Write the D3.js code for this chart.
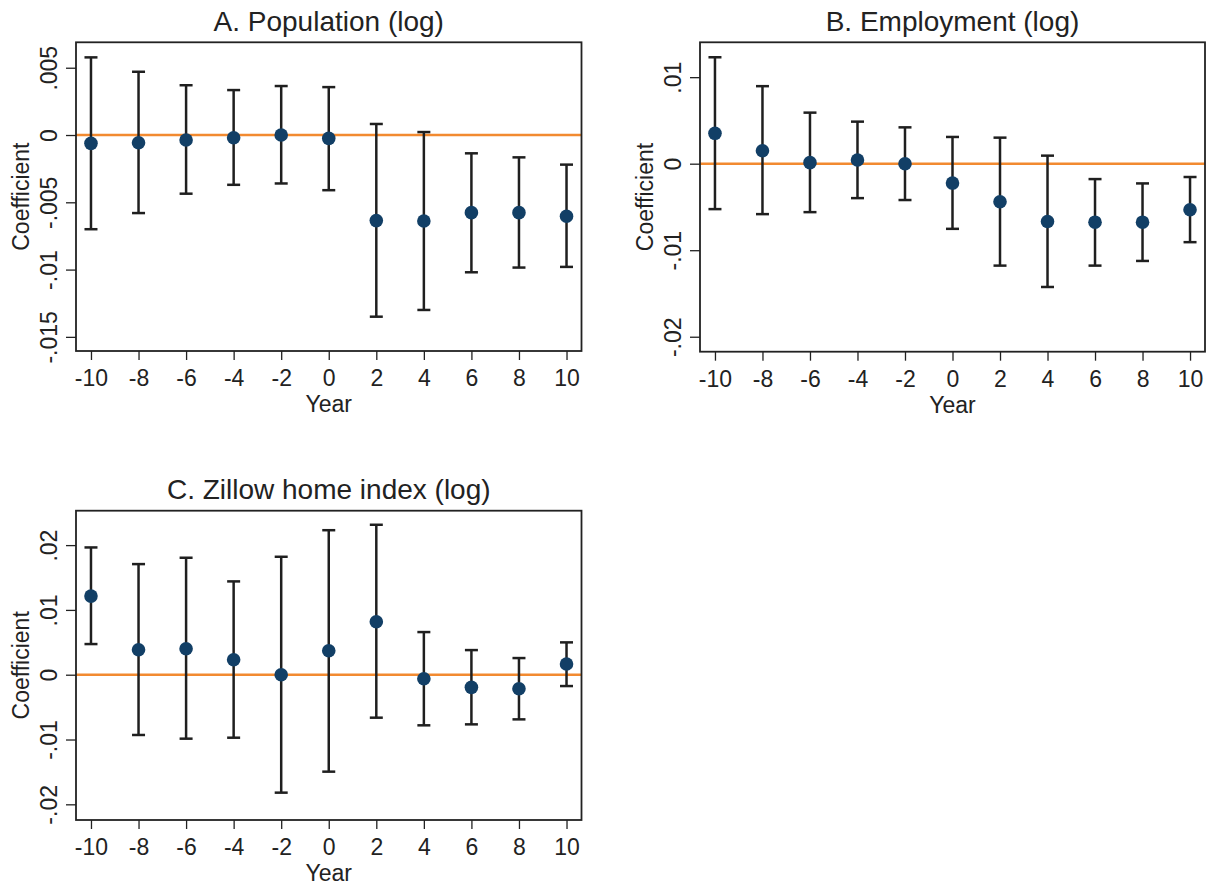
<!DOCTYPE html>
<html>
<head>
<meta charset="utf-8">
<script src="https://cdn.jsdelivr.net/npm/d3@7"></script>
<style>
  body { margin: 0; background: #fff; }
  text { font-family: "Liberation Sans", Arial, Helvetica, sans-serif; fill: #222; }
</style>
</head>
<body>
<script>
//__event-study coefficients__//
var years = [-10, -8, -6, -4, -2, 0, 2, 4, 6, 8, 10];

var popCoef = [-0.00062, -0.00057, -0.00037, -0.00020, 0.00000, -0.00025, -0.00636, -0.00639, -0.00577, -0.00577, -0.00604];
var popLo   = [-0.00700, -0.00580, -0.00436, -0.00370, -0.00360, -0.00410, -0.01350, -0.01300, -0.01020, -0.00985, -0.00980];
var popHi   = [ 0.00577,  0.00470,  0.00370,  0.00334,  0.00364,  0.00356,  0.00082,  0.00022, -0.00136, -0.00166, -0.00220];

var empCoef = [ 0.00351,  0.00150,  0.00012,  0.00042,  0.00000, -0.00224, -0.00440, -0.00668, -0.00676, -0.00676, -0.00533];
var empLo   = [-0.00525, -0.00583, -0.00560, -0.00398, -0.00420, -0.00753, -0.01178, -0.01425, -0.01178, -0.01124, -0.00907];
var empHi   = [ 0.01230,  0.00896,  0.00590,  0.00486,  0.00420,  0.00309,  0.00301,  0.00093, -0.00178, -0.00228, -0.00154];

var zhiCoef = [ 0.01213,  0.00386,  0.00401,  0.00231,  0.00000,  0.00370,  0.00817, -0.00062, -0.00195, -0.00216,  0.00165];
var zhiLo   = [ 0.00473, -0.00930, -0.00987, -0.00972, -0.01820, -0.01496, -0.00663, -0.00781, -0.00766, -0.00689, -0.00175];
var zhiHi   = [ 0.01964,  0.01707,  0.01805,  0.01440,  0.01820,  0.02230,  0.02314,  0.00658,  0.00380,  0.00257,  0.00499];

//__tick values and labels__//
var xTicks = [-10, -8, -6, -4, -2, 0, 2, 4, 6, 8, 10];
var popTicks = [0.005, 0, -0.005, -0.01, -0.015];
var popTickLabels = [".005", "0", "-.005", "-.01", "-.015"];
var empTicks = [0.01, 0, -0.01, -0.02];
var empTickLabels = [".01", "0", "-.01", "-.02"];
var zhiTicks = [0.02, 0.01, 0, -0.01, -0.02];
var zhiTickLabels = [".02", ".01", "0", "-.01", "-.02"];

var width = 1217, height = 888;

var svg = d3.select("body").append("svg")
    .attr("width", width)
    .attr("height", height);

svg.append("rect")
    .attr("width", width)
    .attr("height", height)
    .attr("fill", "#fff");

function drawPanel(p) {
    var w = p.right - p.left, h = p.bottom - p.top;
    var g = svg.append("g")
        .attr("transform", "translate(" + p.left + "," + p.top + ")");

    var x = d3.scaleLinear().domain([-10.63, 10.63]).range([0, w]);
    var y = d3.scaleLinear().domain(p.yDomain).range([h, 0]);

    var rows = years.map(function (yr, i) {
        return { year: yr, coef: p.coef[i], lo: p.lo[i], hi: p.hi[i] };
    });

    //x axis (plain hyphen for negatives, like the original)
    var xAxis = g.append("g")
        .attr("transform", "translate(0," + h + ")")
        .call(d3.axisBottom(x).tickValues(xTicks).tickSize(9).tickSizeOuter(0)
            .tickFormat(function (d) { return String(d); }));
    xAxis.select(".domain").remove();
    xAxis.selectAll("line").attr("stroke", "#222").attr("stroke-width", 1.3);
    xAxis.selectAll("text")
        .attr("y", 35).attr("dy", 0)
        .style("font-size", "23px")
        .style("font-family", "Liberation Sans, Arial, sans-serif")
        .attr("fill", "#222");

    //y axis, labels turned on their side
    var yAxis = g.append("g")
        .call(d3.axisLeft(y).tickValues(p.ticks).tickSize(10).tickSizeOuter(0)
            .tickFormat(function (d, i) { return p.tickLabels[i]; }));
    yAxis.select(".domain").remove();
    yAxis.selectAll("line").attr("stroke", "#222").attr("stroke-width", 1.3);
    yAxis.selectAll("text")
        .attr("transform", "rotate(-90)")
        .attr("x", 0).attr("y", -19).attr("dy", 0)
        .style("text-anchor", "middle")
        .style("font-size", "23px")
        .style("font-family", "Liberation Sans, Arial, sans-serif")
        .attr("fill", "#222");

    //zero reference line
    g.append("line")
        .attr("x1", 0).attr("x2", w)
        .attr("y1", y(0)).attr("y2", y(0))
        .attr("stroke", "#f28a30")
        .attr("stroke-width", 2.6);

    //confidence intervals
    var bars = g.selectAll(".ci").data(rows).enter().append("g").attr("class", "ci");
    bars.append("line")
        .attr("x1", (d) => x(d.year)).attr("x2", (d) => x(d.year))
        .attr("y1", (d) => y(d.lo)).attr("y2", (d) => y(d.hi))
        .attr("stroke", "#1f1f1f").attr("stroke-width", 2.5);
    bars.append("line")
        .attr("x1", (d) => x(d.year) - 6.5).attr("x2", (d) => x(d.year) + 6.5)
        .attr("y1", (d) => y(d.lo)).attr("y2", (d) => y(d.lo))
        .attr("stroke", "#1f1f1f").attr("stroke-width", 2.5);
    bars.append("line")
        .attr("x1", (d) => x(d.year) - 6.5).attr("x2", (d) => x(d.year) + 6.5)
        .attr("y1", (d) => y(d.hi)).attr("y2", (d) => y(d.hi))
        .attr("stroke", "#1f1f1f").attr("stroke-width", 2.5);

    //point estimates
    g.selectAll(".pt").data(rows).enter().append("circle")
        .attr("class", "pt")
        .attr("cx", (d) => x(d.year))
        .attr("cy", (d) => y(d.coef))
        .attr("r", 6.8)
        .attr("fill", "#123f66");

    //plot frame
    g.append("rect")
        .attr("width", w).attr("height", h)
        .attr("fill", "none")
        .attr("stroke", "#222")
        .attr("stroke-width", 1.8);

    //titles
    g.append("text")
        .attr("x", w / 2).attr("y", p.titleY - p.top)
        .attr("text-anchor", "middle")
        .style("font-size", "28px")
        .text(p.title);

    g.append("text")
        .attr("x", w / 2).attr("y", h + 61)
        .attr("text-anchor", "middle")
        .style("font-size", "23px")
        .text("Year");

    g.append("text")
        .attr("transform", "translate(-47.5," + (h / 2) + ") rotate(-90)")
        .attr("text-anchor", "middle")
        .style("font-size", "23px")
        .text("Coefficient");
} //end drawPanel

drawPanel({
    title: "A. Population (log)", titleY: 31,
    left: 76, right: 581.5, top: 42.3, bottom: 351,
    yDomain: [-0.01605, 0.00689],
    ticks: popTicks, tickLabels: popTickLabels,
    coef: popCoef, lo: popLo, hi: popHi
});

drawPanel({
    title: "B. Employment (log)", titleY: 31,
    left: 700, right: 1205, top: 42.3, bottom: 351.7,
    yDomain: [-0.02173, 0.01403],
    ticks: empTicks, tickLabels: empTickLabels,
    coef: empCoef, lo: empLo, hi: empHi
});

drawPanel({
    title: "C. Zillow home index (log)", titleY: 499,
    left: 76, right: 581.5, top: 510.7, bottom: 820,
    yDomain: [-0.02242, 0.02531],
    ticks: zhiTicks, tickLabels: zhiTickLabels,
    coef: zhiCoef, lo: zhiLo, hi: zhiHi
});
</script>
</body>
</html>
